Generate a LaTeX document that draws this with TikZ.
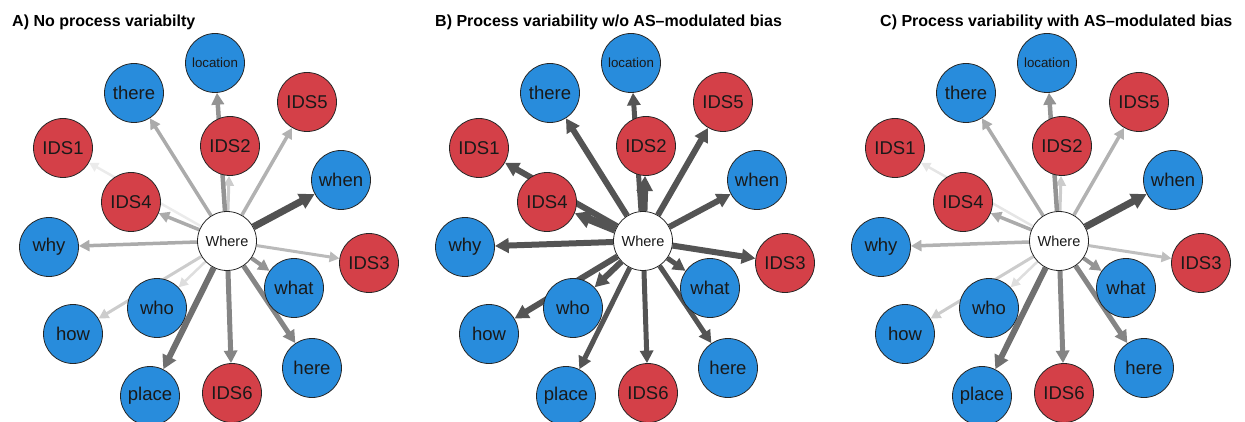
\documentclass[tikz,border=0pt]{standalone}
\usepackage{fontspec}
\setmainfont{Liberation Sans}
\usetikzlibrary{arrows.meta}
\pgfdeclarelayer{edgelayer}
\pgfsetlayers{edgelayer,main}
\definecolor{nblue}{RGB}{40,140,220}
\definecolor{nred}{RGB}{212,64,72}
\tikzset{
  vtx/.style={circle, draw=black!85, line width=0.8pt, minimum size=59pt, inner sep=0pt, text=black!90, font=\fontsize{18.5}{20}\selectfont},
  bnode/.style={vtx, fill=nblue},
  rnode/.style={vtx, fill=nred},
  wnode/.style={vtx, fill=white, font=\fontsize{14.5}{16}\selectfont},
  smallfont/.style={font=\fontsize{13.3}{15}\selectfont},
  ttl/.style={anchor=base west, inner sep=0pt, font=\bfseries\fontsize{16}{18}\selectfont},
  edge/.style 2 args={draw=#1, line width=#2pt, -{Triangle[length=6pt 1.3 0, width=6pt 1.4 0]}},
}
\newcommand\mkpanel[2]{%
  \node[wnode] (#1Where)    at ({#2+227},241) {Where};
  \node[bnode, smallfont] (#1location) at ({#2+215},63) {location};
  \node[bnode] (#1there)    at ({#2+134},93)  {there};
  \node[rnode] (#1IDS5)     at ({#2+307},102) {IDS5};
  \node[rnode] (#1IDS1)     at ({#2+63},148)  {IDS1};
  \node[rnode] (#1IDS2)     at ({#2+230},146) {IDS2};
  \node[bnode] (#1when)     at ({#2+341},180) {when};
  \node[rnode] (#1IDS4)     at ({#2+131},202) {IDS4};
  \node[bnode] (#1why)      at ({#2+49},247)  {why};
  \node[rnode] (#1IDS3)     at ({#2+369},263) {IDS3};
  \node[bnode] (#1what)     at ({#2+294},288) {what};
  \node[bnode] (#1who)      at ({#2+157},308) {who};
  \node[bnode] (#1how)      at ({#2+73},334)  {how};
  \node[bnode] (#1here)     at ({#2+312},368) {here};
  \node[bnode] (#1place)    at ({#2+150},396) {place};
  \node[rnode] (#1IDS6)     at ({#2+232},393) {IDS6};
}
\newcommand\edg[4]{\draw[edge={#3}{#4}] (#1Where) -- (#1#2);}
\begin{document}
\begin{tikzpicture}[x=1pt,y=-1pt]
\useasboundingbox (0,0) rectangle (1245,422);
\node[ttl] (ta) at (12,27) {A) No process variabilty};
\node[ttl] (tb) at (435,27) {B) Process variability w/o AS\textendash modulated bias};
\node[ttl] (tc) at (880,27) {C) Process variability with AS\textendash modulated bias};
\mkpanel{a}{0}
\mkpanel{b}{416}
\mkpanel{c}{832}
\begin{pgfonlayer}{edgelayer}
% panel A
\edg{a}{IDS1}{black!8}{2.5}
\edg{a}{who}{black!13}{2.5}
\edg{a}{how}{black!20}{3}
\edg{a}{IDS2}{black!20}{3}
\edg{a}{IDS3}{black!27}{3}
\edg{a}{IDS5}{black!30}{3.5}
\edg{a}{there}{black!33}{3.5}
\edg{a}{IDS4}{black!33}{3.5}
\edg{a}{why}{black!33}{3.5}
\edg{a}{location}{black!42}{4.5}
\edg{a}{what}{black!42}{4}
\edg{a}{here}{black!48}{5}
\edg{a}{IDS6}{black!48}{5}
\edg{a}{place}{black!56}{6}
\edg{a}{when}{black!68}{7}
% panel B
\edg{b}{there}{black!67}{6}
\edg{b}{location}{black!67}{5}
\edg{b}{IDS5}{black!67}{6}
\edg{b}{IDS2}{black!67}{7}
\edg{b}{when}{black!67}{6}
\edg{b}{IDS4}{black!67}{8}
\edg{b}{IDS1}{black!67}{6}
\edg{b}{why}{black!67}{6}
\edg{b}{IDS3}{black!67}{6}
\edg{b}{what}{black!67}{5}
\edg{b}{here}{black!67}{5}
\edg{b}{IDS6}{black!67}{5}
\edg{b}{place}{black!67}{5}
\edg{b}{who}{black!67}{6}
\edg{b}{how}{black!67}{6}
% panel C
\edg{c}{IDS1}{black!10}{2.5}
\edg{c}{who}{black!13}{2.5}
\edg{c}{how}{black!20}{3}
\edg{c}{IDS2}{black!20}{3}
\edg{c}{IDS3}{black!25}{3}
\edg{c}{IDS5}{black!30}{3.5}
\edg{c}{there}{black!33}{3.5}
\edg{c}{IDS4}{black!33}{3.5}
\edg{c}{why}{black!30}{3.5}
\edg{c}{location}{black!42}{4.5}
\edg{c}{what}{black!42}{4}
\edg{c}{here}{black!48}{5}
\edg{c}{IDS6}{black!48}{5}
\edg{c}{place}{black!56}{6}
\edg{c}{when}{black!68}{7}
\end{pgfonlayer}
\end{tikzpicture}
\end{document}
